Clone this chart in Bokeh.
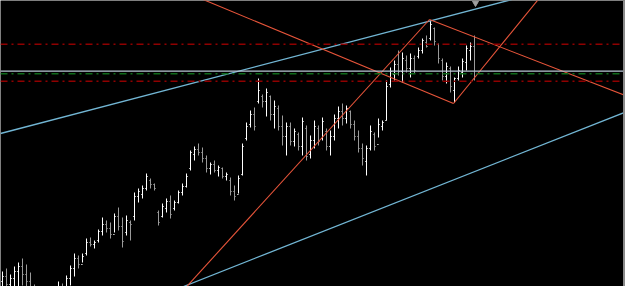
from bokeh.plotting import figure
from bokeh.models import ColumnDataSource, Range1d, Span
from bokeh.embed import file_html
from bokeh.resources import INLINE

# ---- OHLC data (price points, one bar per index) ----
high = [15, 18, 12, 20, 24, 28, 22, 14, 2, -4, -10, -14, -8, -1, 5, 3, 11, 21, 33, 31,
        33, 48, 49, 46, 57, 69, 66, 64, 73, 79, 69, 71, 66, 94, 98, 101, 113, 108, 103, 76,
        83, 88, 91, 86, 96, 103, 113, 136, 140, 143, 139, 131, 124, 126, 121, 119, 114, 109, 101, 111,
        143, 164, 176, 179, 208, 192, 198, 191, 186, 181, 171, 164, 164, 158, 154, 169, 161, 151, 166, 161,
        169, 158, 156, 172, 180, 183, 181, 176, 166, 156, 143, 141, 161, 154, 168, 166, 206, 219, 226, 236,
        234, 231, 233, 231, 239, 248, 251, 266, 259, 243, 228, 224, 220, 209, 220, 228, 241, 244, 251]
low = [-9, -4, -10, -6, -2, 1, -4, -12, -19, -24, -29, -32, -26, -19, -12, -14, -7, 1, 10, 18,
       24, 31, 40, 38, 44, 51, 54, 48, 54, 56, 39, 51, 46, 66, 84, 88, 96, 98, 96, 61,
       69, 74, 68, 76, 83, 91, 99, 116, 126, 131, 124, 114, 112, 114, 110, 108, 106, 91, 86, 93,
       111, 146, 159, 156, 183, 179, 170, 166, 158, 156, 141, 131, 141, 140, 136, 131, 126, 128, 138, 141,
       146, 136, 131, 146, 158, 161, 163, 158, 146, 134, 121, 111, 136, 136, 149, 156, 166, 199, 206, 211,
       204, 214, 209, 213, 228, 233, 239, 246, 241, 223, 206, 203, 194, 184, 206, 209, 216, 226, 206]
open_ = [5, 10, 2, 8, 15, 20, 12, 5, -5, -12, -18, -25, -20, -12, -5, 0, -5, 8, 18, 28,
         22, 33, 44, 42, 46, 55, 62, 58, 52, 70, 60, 54, 64, 70, 90, 92, 98, 106, 102, 74,
         70, 78, 85, 78, 84, 94, 100, 118, 132, 137, 134, 128, 118, 122, 116, 118, 110, 106, 95, 92,
         112, 148, 162, 172, 185, 190, 185, 190, 172, 178, 160, 150, 160, 145, 152, 140, 158, 132, 146, 158,
         148, 155, 140, 150, 168, 175, 168, 175, 162, 150, 138, 125, 138, 152, 142, 160, 166, 202, 212, 222,
         215, 226, 218, 228, 230, 236, 244, 248, 258, 242, 226, 210, 218, 196, 208, 214, 224, 236, 240]
close = [10, 2, 8, 15, 20, 12, 5, -5, -12, -18, -25, -20, -12, -5, 0, -5, 8, 18, 28, 22,
         30, 44, 42, 44, 55, 62, 58, 52, 70, 60, 45, 66, 62, 90, 95, 98, 110, 102, 98, 64,
         80, 85, 72, 84, 94, 100, 110, 134, 137, 134, 128, 118, 122, 116, 119, 110, 112, 95, 90, 108,
         140, 160, 172, 160, 196, 185, 194, 172, 180, 160, 150, 160, 145, 155, 140, 165, 130, 146, 160, 145,
         165, 140, 150, 168, 175, 168, 178, 162, 150, 138, 128, 138, 155, 140, 162, 164, 200, 215, 222, 215,
         228, 218, 228, 216, 236, 246, 240, 262, 245, 228, 210, 220, 200, 208, 216, 225, 238, 240, 210]

# ---- horizontal levels ----
red_levels = [242.3, 205.3]
grey_level = [215.3]
green_level = [212.7]

# ---- trend lines (bar index, price) ----
blue_x0 = [-0.5, 45.25]
blue_y0 = [153.0, 0.0]
blue_x1 = [155.5, 160.0]
blue_y1 = [316.5, 181.2]
red_x0 = [47.5, 112.75, 45.0, 106.75]
red_y0 = [291.4, 183.0, -4.7, 267.0]
red_x1 = [112.75, 134.75, 106.75, 159.5]
red_y1 = [183.0, 291.0, 267.0, 185.1]

# ---- right price-scale: edge position (bar index) and tick prices ----
scale_edge = 155.375
tick_vals = [9, 30, 50, 72, 92, 111, 133, 154, 174, 195, 216, 236, 257, 278]

idx = list(range(len(high)))
colors = ["#ffffff" if c >= o else "#9a9a9a" for o, c in zip(open_, close)]
src = ColumnDataSource(dict(
    x=idx, h=high, l=low, o=open_, c=close, color=colors,
    xl=[i - 0.3 for i in idx], xr=[i + 0.3 for i in idx],
))

p = figure(width=625, height=286, output_backend="svg", toolbar_location=None,
           x_range=Range1d(-0.5, 155.75), y_range=Range1d(0, 286),
           x_axis_location=None, y_axis_location=None,
           background_fill_color="black", border_fill_color="black",
           outline_line_color=None, min_border=0)
p.grid.visible = False

for lv in red_levels:
    p.add_layout(Span(location=lv, dimension="width", line_color="#8f0000",
                      line_width=1.5, line_dash="7 4 2 4"))
for lv in grey_level:
    p.add_layout(Span(location=lv, dimension="width", line_color="#b9c6d6", line_width=1.3))
for lv in green_level:
    p.add_layout(Span(location=lv, dimension="width", line_color="#0f6a1a",
                      line_width=1.5, line_dash="7 4 2 4"))

p.segment(x0="x", y0="l", x1="x", y1="h", color="color", line_width=1, source=src)
p.segment(x0="xl", y0="o", x1="x", y1="o", color="color", line_width=1, source=src)
p.segment(x0="x", y0="c", x1="xr", y1="c", color="color", line_width=1, source=src)

p.segment(x0=blue_x0, y0=blue_y0, x1=blue_x1, y1=blue_y1, line_color="#72b6d4", line_width=1.3)
p.segment(x0=red_x0, y0=red_y0, x1=red_x1, y1=red_y1, line_color="#e8553a", line_width=1.1)

p.scatter(x=[118.25], y=[283.5], marker="inverted_triangle", size=6,
          fill_color="#a0a0a0", line_color="#a0a0a0")

# right price scale edge with its tick marks
p.add_layout(Span(location=scale_edge, dimension="height", line_color="#8a8a8a", line_width=2))
p.segment(x0=[scale_edge] * len(tick_vals), y0=tick_vals,
          x1=[155.75] * len(tick_vals), y1=tick_vals,
          line_color="#8a8a8a", line_width=1)

open("out.html", "w").write(file_html(p, INLINE))
